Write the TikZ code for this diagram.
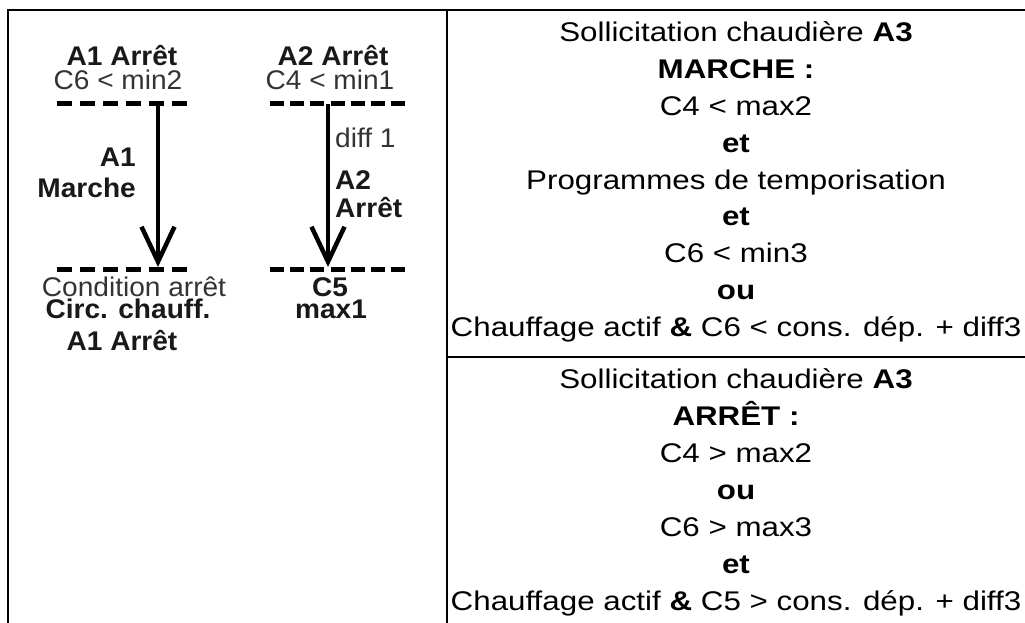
\documentclass[tikz,border=0pt]{standalone}
\usepackage{fontspec}
\setmainfont{Liberation Sans}
\newfontfamily\cellfont{Liberation Sans}[FakeStretch=1.16]
\newfontfamily\lblfont{Liberation Sans}[FakeStretch=1.04]
\usetikzlibrary{arrows.meta}

\begin{document}
\begin{tikzpicture}[
  x=1pt, y=-1pt,
  rule/.style={line width=2pt},
  cond/.style={font=\cellfont\fontsize{27}{30}\selectfont, anchor=base, inner sep=0pt},
  lbl/.style={font=\lblfont\fontsize{27}{30}\selectfont, anchor=base, inner sep=0pt, text=black!80},
  blbl/.style={lbl, font=\lblfont\bfseries\fontsize{27}{30}\selectfont, text=black!90},
  gate/.style={line width=5pt, dash pattern=on 15pt off 8pt},
  gate7/.style={line width=5pt, dash pattern=on 14pt off 6.17pt},
  arr/.style={line width=4.5pt, -{Straight Barb[length=35pt,width=33pt,line width=4.5pt]}}
]
  \useasboundingbox (0,0) rectangle (1025,623);

  % Table
  \draw[rule] (1025,10) -- (8,10) -- (8,623);
  \draw[rule] (447,10) -- (447,623);
  \draw[rule] (447,357) -- (1025,357);

  % A1 (left)
  \node[blbl] (a1off) at (122,66) {A1 Arrêt};
  \node[lbl] (a1min) at (118,90) {C6 < min2};
  \coordinate (a1top) at (158,104);
  \coordinate (a1bot) at (158,267);
  \draw[gate] (57,104) -- (187,104);
  \draw[gate] (57,269) -- (187,269);
  \draw[arr] (a1top) -- (a1bot);
  \node[blbl, anchor=base east] (a1num) at (136,166) {A1};
  \node[blbl, anchor=base east] (a1on) at (136,197) {Marche};
  \node[lbl] (a1cond) at (134,296) {Condition arrêt};
  \node[blbl] (a1circ) at (128,318) {Circ. chauff.};
  \node[blbl] (a1stop) at (122,350) {A1 Arrêt};

  % A2 (right)
  \node[blbl] (a2off) at (333,66) {A2 Arrêt};
  \node[lbl] (a2min) at (330,90) {C4 < min1};
  \coordinate (a2top) at (328,104);
  \coordinate (a2bot) at (328,267);
  \draw[gate7] (270,104) -- (405,104);
  \draw[gate7] (270,269) -- (405,269);
  \draw[arr] (a2top) -- (a2bot);
  \node[lbl, anchor=base west] (a2diff) at (335,147) {diff 1};
  \node[blbl, anchor=base west] (a2num) at (335,189) {A2};
  \node[blbl, anchor=base west] (a2stop) at (335,217) {Arrêt};
  \node[blbl] (a2c5) at (330,296) {C5};
  \node[blbl] (a2max) at (331,318) {max1};

  % A3 marche
  \foreach \txt [count=\i from 0] in {Sollicitation chaudière \textbf{A3}, \textbf{MARCHE :}, C4 < max2, \textbf{et}, Programmes de temporisation, \textbf{et}, C6 < min3, \textbf{ou}, Chauffage actif \textbf{\&} C6 < cons. dép. + diff3}
    \node[cond] (on\i) at (736,{42+36.75*\i}) {\txt};

  % A3 arret
  \foreach \txt [count=\i from 0] in {Sollicitation chaudière \textbf{A3}, \textbf{ARRÊT :}, C4 > max2, \textbf{ou}, C6 > max3, \textbf{et}, Chauffage actif \textbf{\&} C5 > cons. dép. + diff3}
    \node[cond] (off\i) at (736,{388+37*\i}) {\txt};
\end{tikzpicture}
\end{document}
